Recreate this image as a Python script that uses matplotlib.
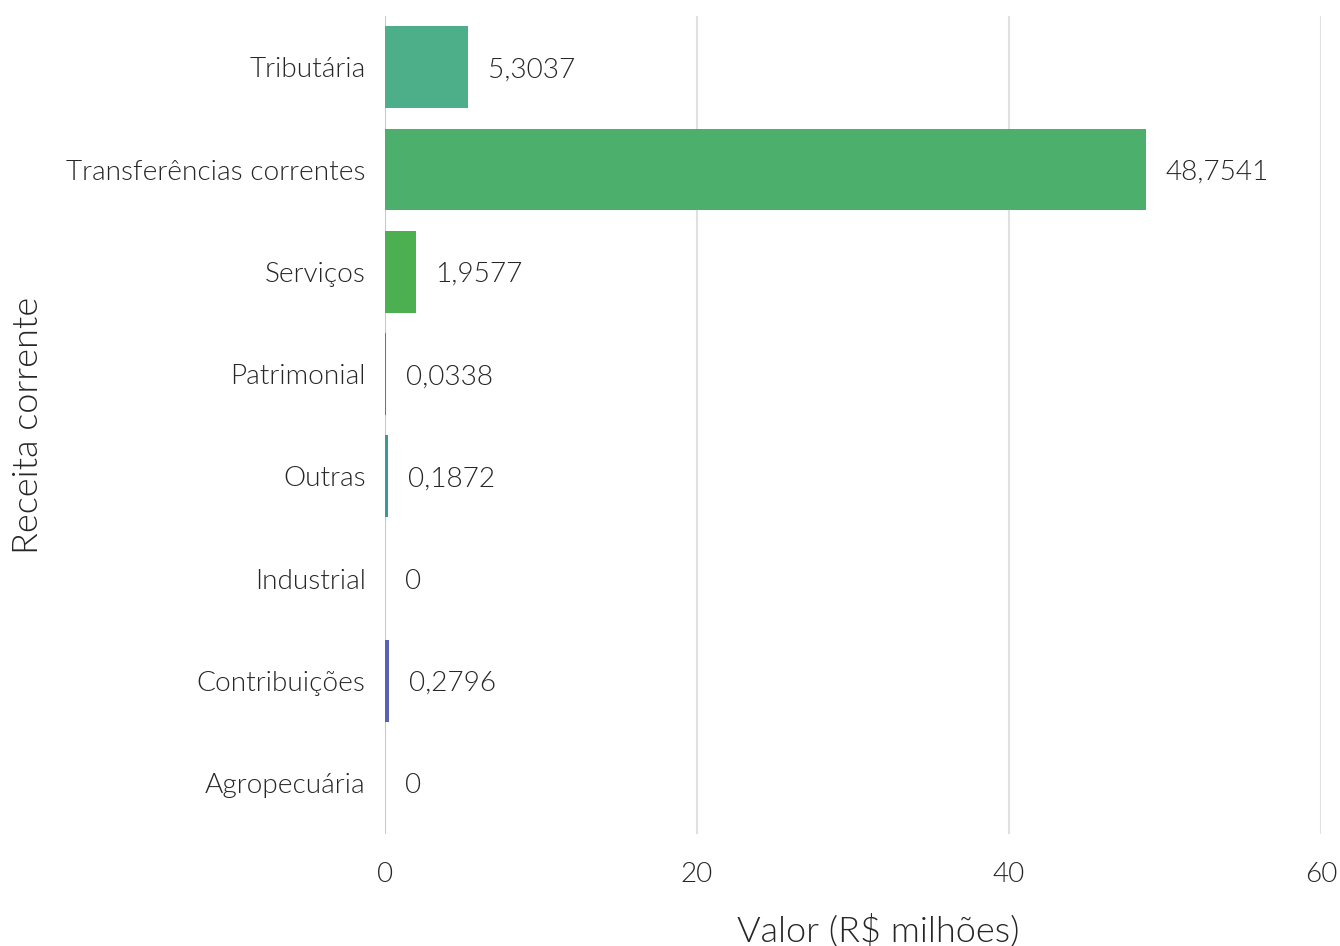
import matplotlib
matplotlib.use("Agg")
import matplotlib.pyplot as plt

categories = ["Tributária", "Transferências correntes", "Serviços", "Patrimonial",
              "Outras", "Industrial", "Contribuições", "Agropecuária"]
values = [5.3037, 48.7541, 1.9577, 0.0338, 0.1872, 0.0, 0.2796, 0.0]
labels = ["5,3037", "48,7541", "1,9577", "0,0338", "0,1872", "0", "0,2796", "0"]
colors = ["#4caf8a", "#4caf6c", "#4caf50", "#3f8f6a", "#3a9a98", "#b0b0b0", "#5a62b4", "#b0b0b0"]
xticks = [0, 20, 40, 60]

plt.rcParams['font.family'] = ['Lato', 'DejaVu Sans']
plt.rcParams['font.weight'] = 300

TXT = '#262626'
FS = 20.2
fig = plt.figure(figsize=(13.4, 9.46), dpi=100)
ax = fig.add_axes([0.2873, 0.118, 0.6985, 0.865])

y = list(range(len(categories)))
ax.barh(y, values, height=0.8, color=colors, zorder=3)
ax.set_ylim(len(categories) - 0.5, -0.5)
ax.set_xlim(0, 60)
ax.set_xticks(xticks)
ax.set_xticklabels([str(t) for t in xticks])
ax.set_yticks(y)
ax.set_yticklabels(categories)

for yi, v, lab in zip(y, values, labels):
    ax.annotate(lab, (v, yi), xytext=(20, 0), textcoords='offset pixels',
                va='center_baseline', ha='left', fontsize=FS, color=TXT, fontweight=300)

for t in xticks:
    ax.axvline(t, color='#e0e0e0' if t else '#c8c8c8', lw=1.5, zorder=1)

for s in ax.spines.values():
    s.set_visible(False)
ax.tick_params(axis='both', length=0, labelsize=FS, colors=TXT)
ax.tick_params(axis='x', pad=20)
ax.tick_params(axis='y', pad=14)
for lbl in ax.get_xticklabels() + ax.get_yticklabels():
    lbl.set_fontweight(300)

ax.set_xlabel("Valor (R$ milhões)", fontsize=26, color=TXT, fontweight=300)
ax.set_ylabel("Receita corrente", fontsize=26, color=TXT, fontweight=300)
ax.xaxis.label.set_va('center')
ax.yaxis.label.set_va('center')
ax.xaxis.set_label_coords(0.527, -0.117)
ax.yaxis.set_label_coords(-0.381, 0.5)

fig.savefig("out.png", dpi=100, facecolor='white')
